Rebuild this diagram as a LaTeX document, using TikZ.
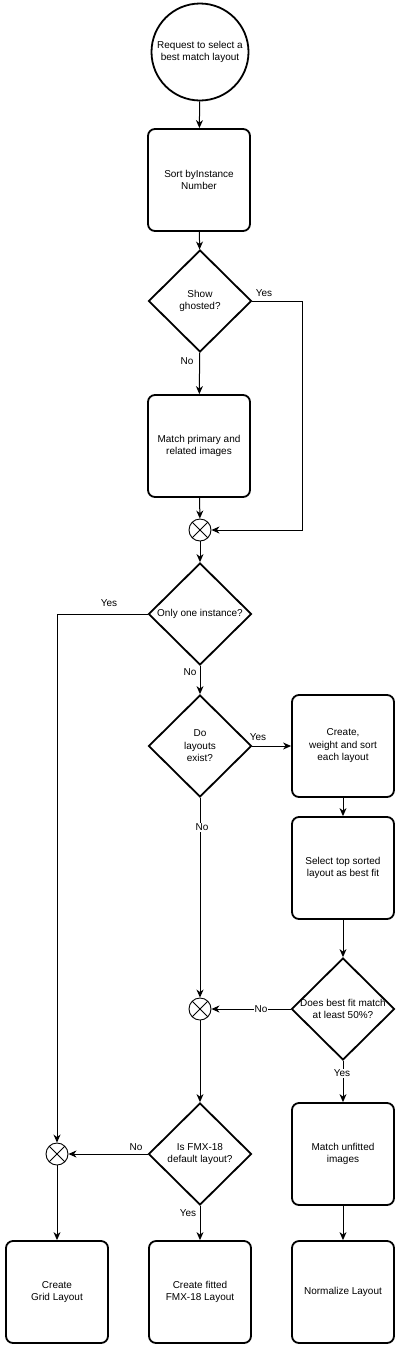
\documentclass[tikz,border=0pt]{standalone}
\usepackage{fontspec}
\setmainfont{Liberation Sans}
\usetikzlibrary{shapes.geometric,arrows.meta}
\begin{document}
\begin{tikzpicture}[x=1pt,y=-1pt,
  every node/.style={font=\fontsize{10pt}{12.5pt}\selectfont},
  stepbox/.style={draw, rounded corners=7pt, line width=1.8pt, minimum width=102pt, minimum height=102pt, align=center, inner sep=0pt},
  dia/.style={diamond, draw, line width=1.8pt, minimum width=103pt, minimum height=102pt, inner sep=0pt},
  startc/.style={circle, draw, line width=1.8pt, minimum size=97pt, inner sep=0pt, align=center},
  junc/.style={circle, draw, line width=0.9pt, minimum size=22pt, inner sep=0pt,
    path picture={\draw[line width=0.9pt] (path picture bounding box.north west) -- (path picture bounding box.south east)
      (path picture bounding box.north east) -- (path picture bounding box.south west);}},
  conn/.style={draw, line width=1pt, -{Stealth[length=8pt,width=7pt,inset=2.5pt]}},
  lbl/.style={fill=white, inner sep=1pt}
]
\useasboundingbox (0,0) rectangle (400,1350);
\fill[white] (0,0) rectangle (400,1350);

% nodes
\node[startc] (start) at (200,52) {Request to select a\\best match layout};
\node[stepbox] (sort) at (199,180) {Sort byInstance\\Number};
\node[dia] (show) at (200,301) {};
\node at (200,301) [align=center] {Show\\ghosted?};
\node[stepbox] (match) at (199,446) {Match primary and\\related images};
\node[junc] (j1) at (200,530) {};
\node[dia] (only) at (200,614) {};
\node at (200,614) {Only one instance?};
\node[dia] (do) at (200,746) {};
\node at (200,746) [align=center] {Do\\layouts\\exist?};
\node[stepbox] (create) at (343,746) {Create,\\weight and sort\\each layout};
\node[stepbox] (select) at (343,868) {Select top sorted\\layout as best fit};
\node[dia] (best) at (343,1009) {};
\node at (343,1009) [align=center] {Does best fit match\\at least 50\%?};
\node[junc] (j2) at (200,1009) {};
\node[dia] (fmx) at (200,1154) {};
\node at (200,1154) [align=center] {Is FMX-18\\default layout?};
\node[stepbox] (unfit) at (343,1154) {Match unfitted\\images};
\node[junc] (j3) at (57,1154) {};
\node[stepbox] (grid) at (57,1292) {Create\\Grid Layout};
\node[stepbox] (fitted) at (200,1292) {Create fitted\\FMX-18 Layout};
\node[stepbox] (norm) at (343,1292) {Normalize Layout};

\coordinate (c1) at (302,301);

% connectors
\path[conn] (start) -- (sort);
\path[conn] (sort) -- (show);
\path[conn] (show) -- (match);
\path[conn] (match) -- (j1);
\path[conn] (show.east) -- (c1) |- (j1.east);
\path[conn] (j1) -- (only);
\path[conn] (only) -- (do);
\path[conn] (only.west) -| (j3.north);
\path[conn] (do) -- (create);
\path[conn] (do) -- (j2);
\path[conn] (create) -- (select);
\path[conn] (select) -- (best);
\path[conn] (best.west) -- (j2.east);
\path[conn] (best) -- (unfit);
\path[conn] (j2) -- (fmx);
\path[conn] (fmx.west) -- (j3.east);
\path[conn] (fmx) -- (fitted);
\path[conn] (j3) -- (grid);
\path[conn] (unfit) -- (norm);

% labels
\node at (264,293) {Yes};
\node[lbl] at (187,361) {No};
\node at (109,603) {Yes};
\node[lbl] at (190,672) {No};
\node at (258,737) {Yes};
\node[lbl] at (202,827) {No};
\node[lbl] at (261,1009) {No};
\node[lbl] at (342,1073) {Yes};
\node at (136,1147) {No};
\node[lbl] at (188,1213) {Yes};
\end{tikzpicture}
\end{document}
